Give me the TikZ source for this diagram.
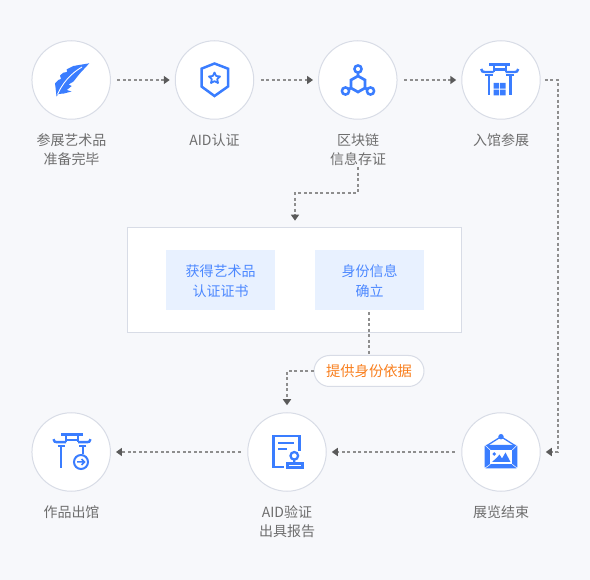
\documentclass[tikz,border=0pt]{standalone}
\usepackage{fontspec}
\setmainfont{Noto Sans CJK SC}
\usetikzlibrary{arrows.meta}
\definecolor{pagebg}{HTML}{F7F8FB}
\definecolor{ringline}{HTML}{D8DCE6}
\definecolor{iconblue}{HTML}{3A7DFF}
\definecolor{boxblue}{HTML}{E8F1FF}
\definecolor{boxtext}{HTML}{4C88FF}
\definecolor{steptext}{HTML}{6E6E6E}
\definecolor{pilltext}{HTML}{F97F1E}
\definecolor{flowgray}{HTML}{8E8E8E}
\definecolor{tipgray}{HTML}{5A5A5A}
\tikzset{
  ring/.style={circle,draw=ringline,fill=white,line width=1pt,minimum size=78.5pt,inner sep=0pt},
  steplabel/.style={text=steptext,align=center,inner sep=0pt,font=\fontsize{14}{19.5}\selectfont},
  panelbox/.style={draw=ringline,fill=white,line width=1pt,minimum width=334pt,minimum height=105pt,inner sep=0pt},
  infobox/.style={fill=boxblue,minimum width=109pt,minimum height=60pt,inner sep=0pt},
  infolabel/.style={text=boxtext,align=center,inner sep=0pt,font=\fontsize{14}{19.5}\selectfont},
  pillbox/.style={draw=ringline,fill=white,text=pilltext,line width=1pt,rounded corners=15.5pt,minimum width=110pt,minimum height=31pt,inner sep=0pt,font=\fontsize{14.3}{16}\selectfont},
  flowline/.style={draw=flowgray,line width=1.8pt,dash pattern=on 3pt off 2.5pt,-{Triangle[length=6pt,width=8pt,color=tipgray,fill=tipgray]},shorten <=6.5pt,shorten >=5pt},
  plainline/.style={draw=flowgray,line width=2.2pt,dash pattern=on 3pt off 2.5pt},
  iconline/.style={draw=iconblue,line width=2.7pt},
  gatetop/.pic={
    \draw[iconline,line width=2.6pt] (-10.7,0) -- (10.7,0);
    \draw[iconline,line width=2.4pt] (-6.5,5.2) -- (6.5,5.2);
    \draw[iconline,line width=2.3pt] (-6,0) -- (-6,7.5) (6,0) -- (6,7.5);
    \draw[iconline,line width=2.4pt] (-18.5,4.5) .. controls (-18,7) and (-17,7.5) .. (-15,7.5) -- (-6,7.5);
    \draw[iconline,line width=2.4pt] (18.5,4.5) .. controls (18,7) and (17,7.5) .. (15,7.5) -- (6,7.5);
    \draw[iconline,line width=2pt] (-14.4,11) -- (-6.7,11) (14.4,11) -- (6.7,11);
  }
}
\begin{document}
\begin{tikzpicture}[x=1pt,y=-1pt]
      \fill[pagebg] (0,0) rectangle (590,580);
      \node[ring] (art) at (71.2,80) {};
      \node[ring] (aid) at (214.5,80) {};
      \node[ring] (chain) at (357.8,80) {};
      \node[ring] (enter) at (501,80) {};
      \node[ring] (leave) at (71.2,452) {};
      \node[ring] (report) at (287,452) {};
      \node[ring] (finish) at (501,452) {};
      \node[steplabel] (artlab) at (71.5,149.5) {参展艺术品\\准备完毕};
      \node[steplabel] (aidlab) at (214.5,140) {AID认证};
      \node[steplabel] (chainlab) at (358,149.5) {区块链\\信息存证};
      \node[steplabel] (enterlab) at (501,140) {入馆参展};
      \node[steplabel] (leavelab) at (71.5,512) {作品出馆};
      \node[steplabel] (reportlab) at (287,521.5) {AID验证\\出具报告};
      \node[steplabel] (finishlab) at (501,512) {展览结束};
      \node[panelbox] (panel) at (294.5,279.7) {};
      \node[infobox] (paper) at (220.5,280) {};
      \node[infobox] (ident) at (369.5,280) {};
      \node[infolabel] (paperlab) at (220.5,281) {获得艺术品\\认证证书};
      \node[infolabel] (identlab) at (369.5,281) {身份信息\\确立};
      \coordinate (turnA) at (558,80);
      \coordinate (turnB) at (558,452);
      \coordinate (turnC) at (295,193);
      \coordinate (pillTop) at (369,355);
      \draw[flowline] (art) -- (aid);
      \draw[flowline] (aid) -- (chain);
      \draw[flowline] (chain) -- (enter);
      \draw[flowline,shorten <=4pt] (enter) -- (turnA) -- (turnB) -- (finish);
      \draw[flowline] (finish) -- (report);
      \draw[flowline] (report) -- (leave);
      \draw[flowline,shorten <=1.5pt,shorten >=6pt] (chainlab.south) |- (turnC) -- (turnC |- panel.north);
      \draw[plainline,shorten <=2pt] (pillTop |- ident.south) -- (pillTop);
      \node[pillbox] (pill) at (369,371) {提供身份依据};
      \draw[flowline,shorten <=0pt,shorten >=7pt] (pill.west) -| (report.north);
      % feather
      \fill[iconblue] (89.3,63.3) -- (73.3,66) -- (66.7,69.3) -- (67,72) -- (63.3,72.7) -- (60,75.5) -- (61,79) -- (58.3,80) -- (55,83.3) -- (56,91.7) -- (56.5,96.5) -- (58.5,94) -- (64,93.5) -- (71.5,91.5) -- (66.7,90) -- (71.7,86) -- (68.5,84.5) -- (73.3,81.7) -- (80,73.3) -- cycle;
      \draw[white,line width=0.9pt] (57.5,94.5) .. controls (62,84) and (70,74) .. (82,67);
      % shield
      \draw[iconline,line join=miter,line width=2.5pt] (214.5,63.5) -- (228,68.7) -- (228,86.5) -- (214.5,96) -- (201.5,86.5) -- (201.5,68.7) -- cycle;
      \draw[iconline,line width=1.8pt,line join=round] (214.5,72.5) -- (216.2,76) -- (220,76.5) -- (217.2,79.2) -- (218,83) -- (214.5,81.2) -- (211,83) -- (211.8,79.2) -- (209,76.5) -- (212.8,76) -- cycle;
      % chain
      \draw[iconline] (358,73) -- (358,76) -- (365,80) -- (365,88) -- (358,92) -- (351,88) -- (351,80) -- (358,76);
      \draw[iconline] (351,88) -- (348.5,89.5) (365,88) -- (367.5,89.5);
      \draw[iconline,line width=2.5pt] (358,69) circle (3.6) (345.5,91) circle (3.6) (370.5,91) circle (3.6);
      % gate with windows
      \pic at (499.7,64.5) {gatetop};
      \draw[iconline,line width=2.5pt] (489,75) -- (489,95.5) (510.4,75) -- (510.4,95.5);
      \fill[iconblue] (493.7,83) rectangle (499.2,88.7) (500.2,83) rectangle (505.7,88.7) (493.7,89.7) rectangle (499.2,95.5) (500.2,89.7) rectangle (505.7,95.5);
      % gate with exit mark
      \pic at (72,434.7) {gatetop};
      \draw[iconline,line width=2.5pt] (61,445) -- (61,468) (83,445) -- (83,454);
      \draw[iconline,line width=2pt] (81,462) circle (7);
      \draw[iconline,line width=1.5pt] (77,462) -- (84.5,462) (81.5,459) -- (84.5,462) -- (81.5,465);
      % report
      \draw[iconline] (283.5,467) -- (273.5,467) -- (273.5,436) -- (299.5,436) -- (299.5,451);
      \draw[iconline,line width=2pt] (278,442.7) -- (294,442.7) (278,448.7) -- (286.5,448.7);
      \draw[iconline,line width=2.3pt] (294.3,455.8) circle (3.8) (294.3,459.5) -- (294.3,463.5);
      \draw[iconline,line width=2.3pt] (287.5,463.5) rectangle (302.5,467.5);
      % framed picture
      \fill[iconblue] (501,436.7) circle (2.7);
      \draw[iconline,line width=1.3pt] (486.3,446) -- (501,436.7) -- (515.7,446);
      \fill[iconblue,rounded corners=1pt] (484.7,445) rectangle (517.3,468.3);
      \fill[white] (490.3,450) rectangle (512.3,464.3);
      \fill[iconblue] (494.3,454) circle (1.9);
      \fill[iconblue] (492,462) -- (497,457.5) -- (499.5,454.5) -- (502,458.5) -- (505.5,452.5) -- (510.5,462) -- cycle;
      \draw[white,line width=0.5pt] (484.7,445) -- (490.3,450) (517.3,445) -- (512.3,450) (484.7,468.3) -- (490.3,464.3) (517.3,468.3) -- (512.3,464.3);
\end{tikzpicture}
\end{document}
